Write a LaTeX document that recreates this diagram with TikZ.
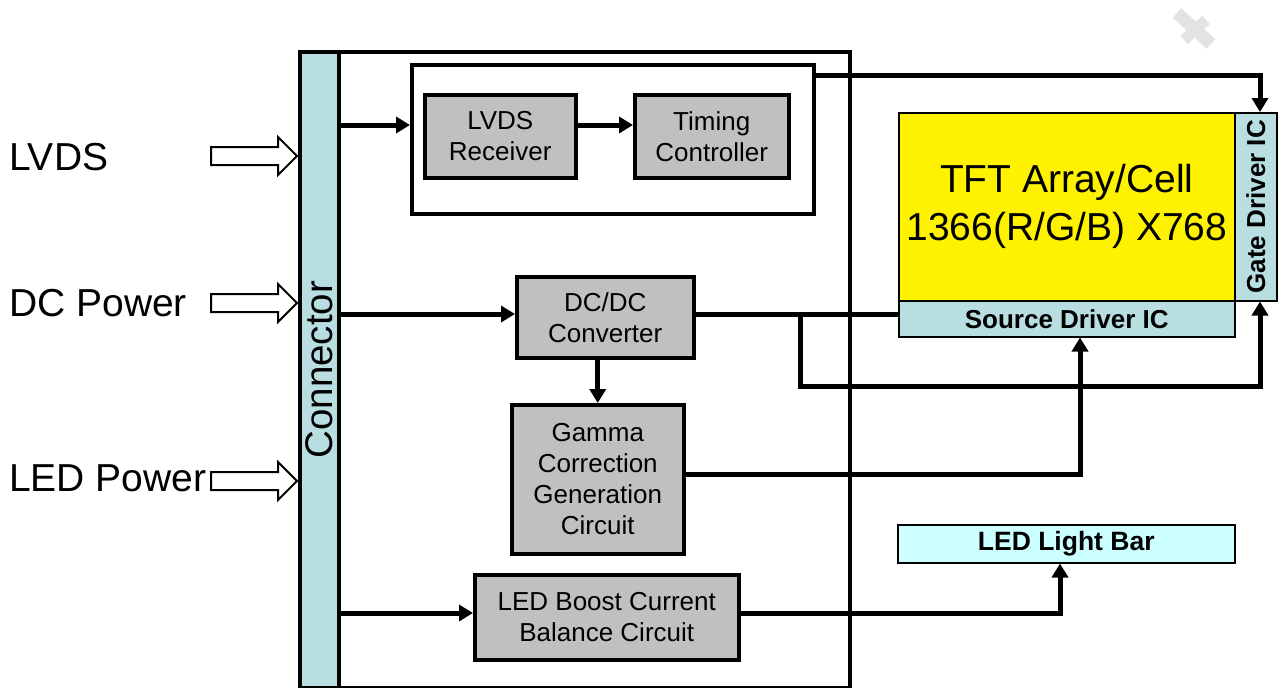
\documentclass[tikz,border=0pt]{standalone}
\usepackage{fontspec}
\setmainfont{Liberation Sans}
\usetikzlibrary{arrows.meta}
\definecolor{connblue}{RGB}{185,222,226}
\definecolor{boxgrey}{RGB}{192,192,192}
\definecolor{barcyan}{RGB}{204,255,255}
\begin{document}
\begin{tikzpicture}[x=1pt,y=-1pt,
  frame/.style={draw=black, line width=3.5pt, inner sep=0pt, anchor=north west},
  greybox/.style={frame, fill=boxgrey, align=center, font=\fontsize{26pt}{31pt}\selectfont},
  panel/.style={draw=black, line width=1.5pt, inner sep=0pt, anchor=north west, align=center},
  conn/.style={line width=5pt, -{Triangle[length=14pt,width=16pt]}},
  wire/.style={line width=5pt},
  hollow/.style={draw=black, line width=2pt, fill=white},
  biglabel/.style={anchor=west, inner sep=0pt, font=\fontsize{39pt}{46pt}\selectfont}]
\useasboundingbox (0,0) rectangle (1278,688);

% watermark
\draw[gray!22, line width=13pt] (1177,13) -- (1211,44);
\draw[gray!22, line width=11pt] (1206,20) -- (1184,40);

% main frames
\node[frame, minimum width=550pt, minimum height=636pt] (outer) at (298,50) {};
\node[frame, fill=connblue, minimum width=39pt, minimum height=636pt,
      font=\fontsize{38.5pt}{44pt}\selectfont] (conn) at (298,50) {\rotatebox{90}{Connector}};
\node[frame, minimum width=402pt, minimum height=149pt] (inner) at (410,63) {};

% grey boxes
\node[greybox, minimum width=151pt, minimum height=83pt] (lvds) at (423,93) {LVDS\\Receiver};
\node[greybox, minimum width=154pt, minimum height=83pt] (timing) at (633,93) {Timing\\Controller};
\node[greybox, minimum width=177pt, minimum height=81pt] (dcdc) at (515,275) {DC/DC\\Converter};
\node[greybox, minimum width=172pt, minimum height=149pt] (gamma) at (510,403) {Gamma\\Correction\\Generation\\Circuit};
\node[greybox, minimum width=264pt, minimum height=85pt] (boost) at (473,573) {LED Boost Current\\Balance Circuit};

% panel
\node[panel, fill=yellow, minimum width=336pt, minimum height=188pt,
      font=\fontsize{39pt}{48pt}\selectfont] (tft) at (898,112) {TFT Array/Cell\\1366(R/G/B) X768};
\node[panel, fill=connblue, minimum width=336pt, minimum height=36pt,
      font=\bfseries\fontsize{26pt}{28pt}\selectfont] (source) at (898,300) {Source Driver IC};
\node[panel, fill=connblue, minimum width=42pt, minimum height=188pt,
      font=\bfseries\fontsize{26pt}{28pt}\selectfont] (gate) at (1234,112) {\rotatebox{90}{Gate Driver IC}};
\node[panel, fill=barcyan, minimum width=337pt, minimum height=38pt,
      font=\bfseries\fontsize{26.5pt}{28pt}\selectfont] (ledbar) at (897,524) {LED Light Bar};

% left labels
\node[biglabel] (lLVDS) at (9,157) {LVDS};
\node[biglabel] (lDC) at (9,303) {DC Power};
\node[biglabel] (lLED) at (9,478) {LED Power};

% hollow input arrows
\foreach \c in {156,303,481}{
  \draw[hollow] (211,\c-9) -- (278,\c-9) -- (278,\c-19) -- (297,\c) -- (278,\c+19) -- (278,\c+9) -- (211,\c+9) -- cycle;
}

% level coordinates
\coordinate (y1) at (0,125);
\coordinate (y2) at (0,314);
\coordinate (y3) at (0,613);
\coordinate (ytop) at (0,75);
\coordinate (ybr) at (0,386);
\coordinate (xbr) at (800,0);
\coordinate (xg) at (1260,0);
\coordinate (xs) at (1080,0);
\coordinate (xl) at (1060,0);
\coordinate (yg) at (0,474);

% connectors
\draw[conn] (conn.east |- y1) -- (inner.west |- y1);
\draw[conn] (lvds.east |- y1) -- (timing.west |- y1);
\draw[conn] (conn.east |- y2) -- (dcdc.west |- y2);
\draw[conn] (conn.east |- y3) -- (boost.west |- y3);
\draw[conn] (gamma.north |- dcdc.south) -- (gamma.north);

\coordinate (topstart) at (inner.east |- ytop);
\draw[conn] (topstart) -| (xg |- gate.north);

\coordinate (dcout) at (dcdc.east |- y2);
\coordinate (br) at (xbr |- y2);
\draw[wire] (dcout) -- (source.west |- y2);
\draw[conn] (br) |- (xg |- ybr) -- (xg |- gate.south);

\draw[conn] (gamma.east |- yg) -| (xs |- source.south);
\draw[conn] (boost.east |- y3) -| (xl |- ledbar.south);

\end{tikzpicture}
\end{document}
